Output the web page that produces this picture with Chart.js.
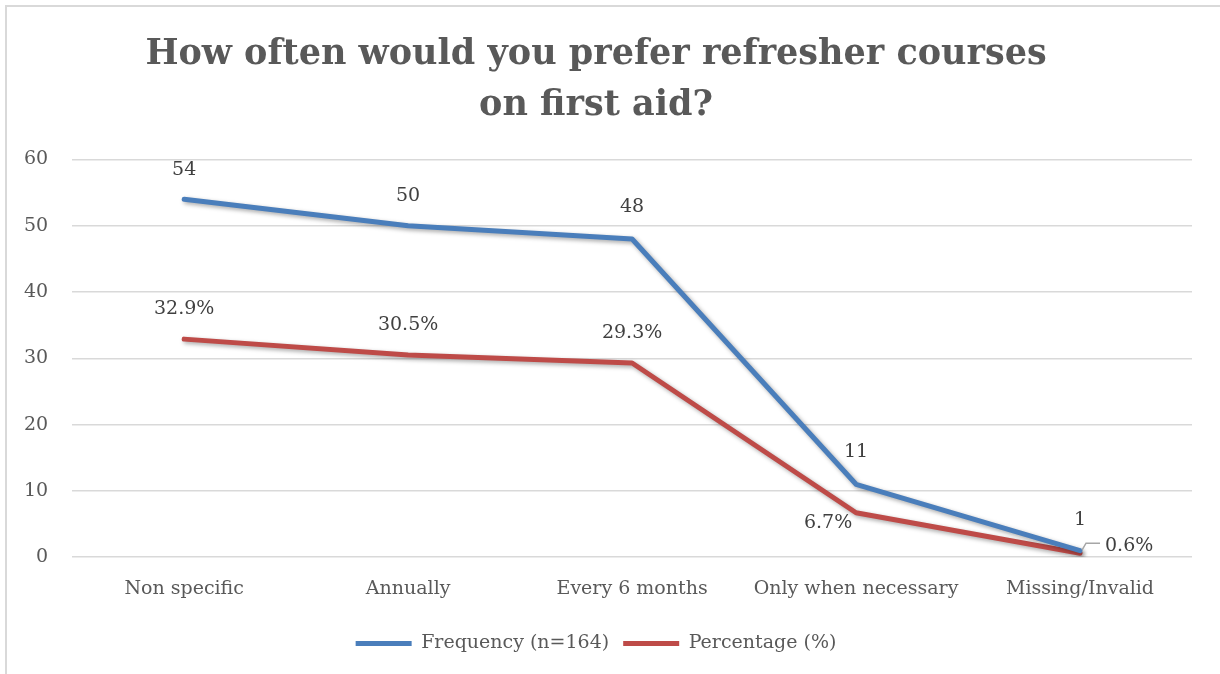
<!DOCTYPE html>
<html>
<head>
<meta charset="utf-8">
<script src="https://cdn.jsdelivr.net/npm/chart.js@4"></script>
<style>
    html, body { margin: 0; padding: 0; background: #fff; overflow: hidden; }
    #wrap { position: relative; width: 1220px; height: 674px; }
    #frame { position: absolute; left: 5px; top: 5px; width: 1300px; height: 800px; border-left: 2px solid #d9d9d9; border-top: 2px solid #d9d9d9; }
    canvas { position: absolute; left: 0; top: 0; }
</style>
</head>
<body>
<div id="wrap">
    <div id="frame"></div>
    <canvas id="lineChart" width="1220" height="674"></canvas>
</div>
<script>
const categories = ['Non specific', 'Annually', 'Every 6 months', 'Only when necessary', 'Missing/Invalid'];
const frequency = [54, 50, 48, 11, 1];
const percentage = [32.9, 30.5, 29.3, 6.7, 0.6];
const yTicks = [0, 10, 20, 30, 40, 50, 60];

const FONT = "'DejaVu Serif', 'Liberation Serif', serif";
const GREY = '#595959';

// label placement for every point: [dx, dy] from the point centre
const freqLabelPos = [[0, -29], [0, -30], [0, -32], [0, -32], [0, -31]];
const pctLabelPos = [[0, -30], [0, -30], [0, -30], [-28, 10], [0, 0]];

// shadow under the lines
const lineShadow = {
    id: 'lineShadow',
    beforeDatasetsDraw(chart) {
        const ctx = chart.ctx;
        ctx.save();
        ctx.shadowColor = 'rgba(0, 0, 0, 0.35)';
        ctx.shadowBlur = 4;
        ctx.shadowOffsetX = 2;
        ctx.shadowOffsetY = 2;
    },
    afterDatasetsDraw(chart) {
        chart.ctx.restore();
    }
};

// data labels
const pointLabels = {
    id: 'pointLabels',
    afterDatasetsDraw(chart) {
        const ctx = chart.ctx;
        ctx.save();
        ctx.font = '19px ' + FONT;
        ctx.fillStyle = '#404040';
        ctx.textAlign = 'center';
        ctx.textBaseline = 'middle';

        chart.getDatasetMeta(0).data.forEach((pt, i) => {
            const p = freqLabelPos[i];
            ctx.fillText(String(frequency[i]), pt.x + p[0], pt.y + p[1]);
        });

        const meta = chart.getDatasetMeta(1).data;
        meta.forEach((pt, i) => {
            const txt = percentage[i].toFixed(1) + '%';
            if (i === meta.length - 1) {
                // leader line to the right
                ctx.strokeStyle = '#a6a6a6';
                ctx.lineWidth = 1.5;
                ctx.beginPath();
                ctx.moveTo(pt.x + 2, pt.y - 3);
                ctx.lineTo(pt.x + 6, pt.y - 10);
                ctx.lineTo(pt.x + 20, pt.y - 10);
                ctx.stroke();
                ctx.textAlign = 'left';
                ctx.fillText(txt, pt.x + 25, pt.y - 7);
                ctx.textAlign = 'center';
            } else {
                const p = pctLabelPos[i];
                ctx.fillText(txt, pt.x + p[0], pt.y + p[1]);
            }
        });
        ctx.restore();
    }
};

let lineCtx = document.getElementById('lineChart');
if (lineCtx) {
    lineCtx = lineCtx.getContext('2d');

    new Chart(lineCtx, {
        type: 'line',
        data: {
            labels: categories,
            datasets: [{
                label: 'Frequency (n=164)',
                data: frequency,
                borderColor: '#4a7ebb',
                backgroundColor: '#4a7ebb',
                borderWidth: 5,
                borderCapStyle: 'round',
                borderJoinStyle: 'round',
                pointRadius: 0,
                tension: 0
            }, {
                label: 'Percentage (%)',
                data: percentage,
                borderColor: '#be4b48',
                backgroundColor: '#be4b48',
                borderWidth: 5,
                borderCapStyle: 'round',
                borderJoinStyle: 'round',
                pointRadius: 0,
                tension: 0
            }]
        },
        options: {
            responsive: false,
            animation: false,
            layout: {
                padding: { left: 0, right: 28, top: 10, bottom: 11 }
            },
            scales: {
                x: {
                    offset: true,
                    grid: { display: false, drawTicks: false },
                    border: { display: false },
                    ticks: {
                        color: GREY,
                        padding: 20,
                        font: { family: FONT, size: 19 }
                    }
                },
                y: {
                    min: 0,
                    max: 60,
                    afterBuildTicks(axis) {
                        axis.ticks = yTicks.map(v => ({ value: v }));
                    },
                    grid: { color: '#d9d9d9', lineWidth: 1.5, drawTicks: false },
                    border: { display: false },
                    ticks: {
                        color: GREY,
                        padding: 24,
                        font: { family: FONT, size: 19 }
                    }
                }
            },
            plugins: {
                title: {
                    display: true,
                    text: ['How often would you prefer refresher courses', 'on first aid?'],
                    color: GREY,
                    font: { family: FONT, size: 35, weight: 'bold', lineHeight: 1.45 },
                    padding: { top: 20, bottom: 28 }
                },
                legend: {
                    position: 'bottom',
                    labels: {
                        usePointStyle: true,
                        pointStyleWidth: 56,
                        pointStyle: 'line',
                        boxHeight: 5,
                        padding: 14,
                        color: GREY,
                        font: { family: FONT, size: 19 }
                    }
                },
                tooltip: { enabled: false }
            }
        },
        plugins: [lineShadow, pointLabels]
    });
}
</script>
</body>
</html>
